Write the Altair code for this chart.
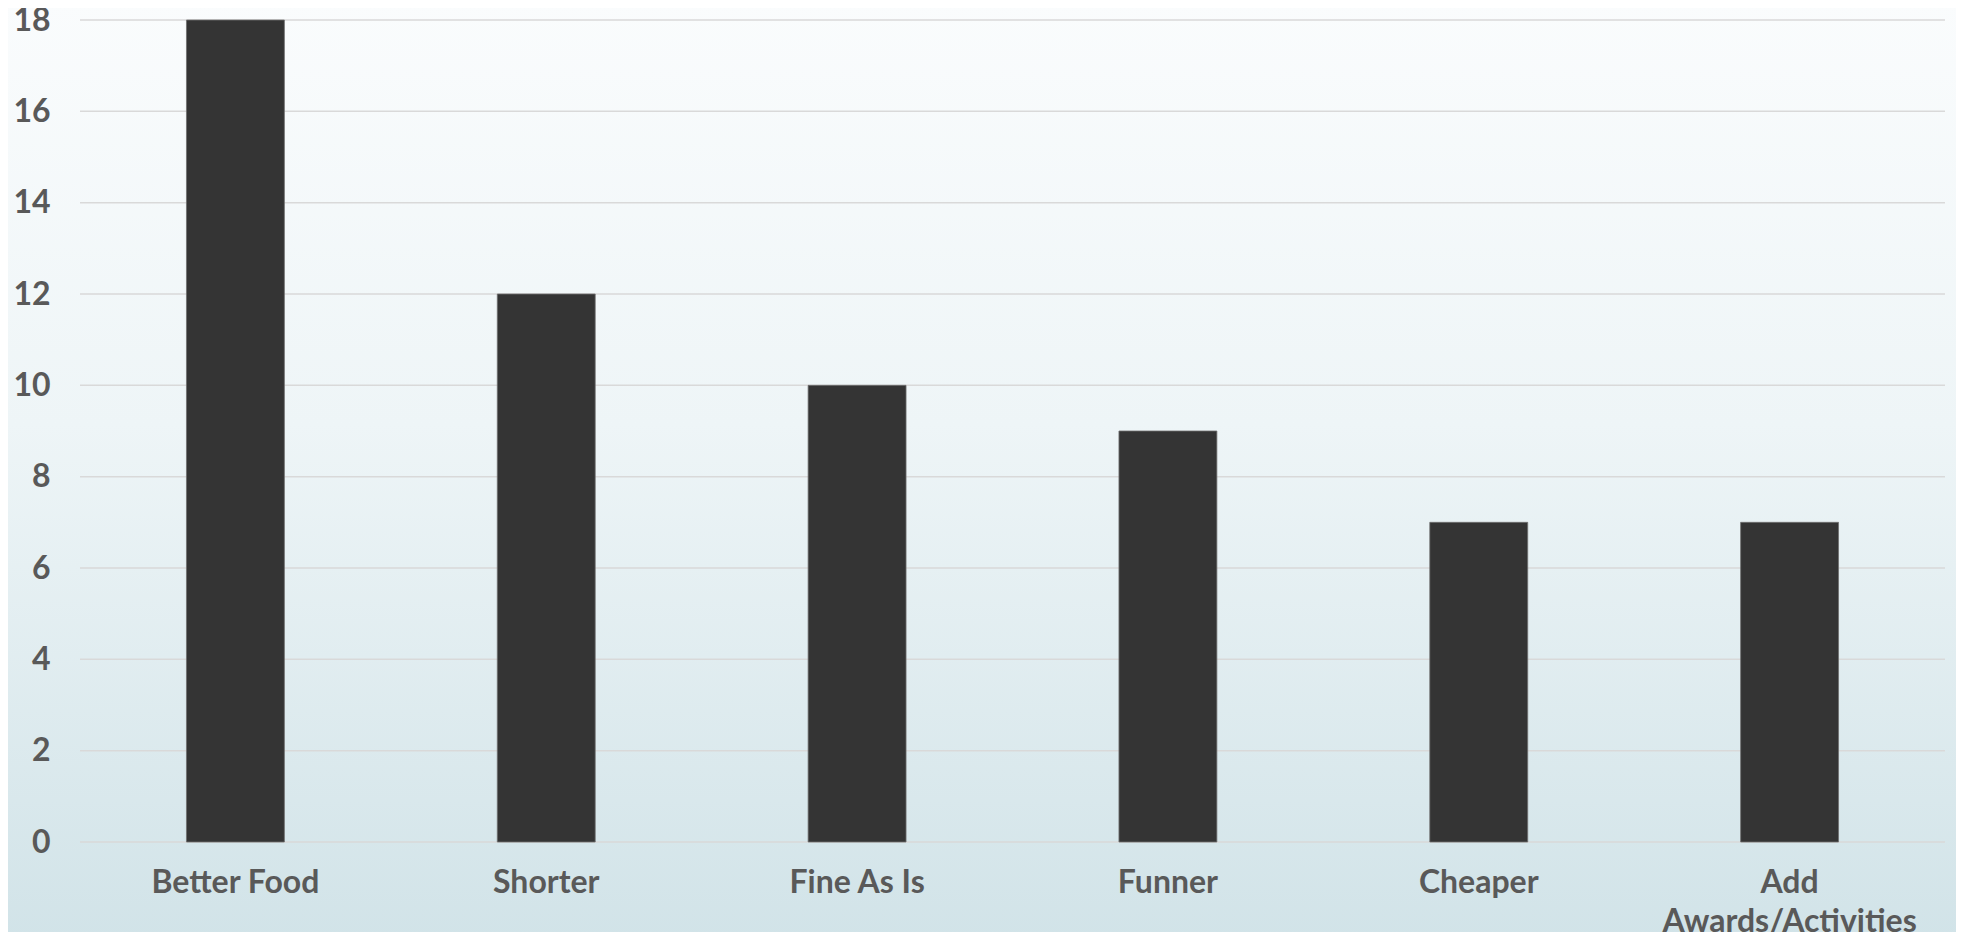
import altair as alt
import pandas as pd

categories = ["Better Food", "Shorter", "Fine As Is", "Funner", "Cheaper", "Add|Awards/Activities"]
counts = [18, 12, 10, 9, 7, 7]
y_ticks = [0, 2, 4, 6, 8, 10, 12, 14, 16, 18]

W, H = 1865, 822
PAD = {"left": 72, "top": 12, "right": 11, "bottom": 90}
FONT = "Lato"
TXT = "#595959"
FS = 32

df = pd.DataFrame({"category": categories, "count": counts})
grid_df = pd.DataFrame({"tick": y_ticks})
one = pd.DataFrame({"k": [0]})

ysc = alt.Scale(domain=[0, 18], nice=False, zero=True)
yaxis = alt.Axis(title=None, values=y_ticks, grid=False, domain=False, ticks=False,
                 zindex=1, labelFont=FONT, labelFontSize=FS, labelFontWeight="bold",
                 labelColor=TXT, labelPadding=30)

bg = alt.Chart(one).mark_rect(
    color=alt.Gradient(
        gradient="linear",
        stops=[alt.GradientStop(color="#fafcfd", offset=0),
               alt.GradientStop(color="#eef5f7", offset=0.45),
               alt.GradientStop(color="#d1e3e8", offset=1)],
        x1=0, x2=0, y1=0, y2=1,
    )
).encode(
    x=alt.value(-80), x2=alt.value(W + 20),
    y=alt.value(-20), y2=alt.value(H + 100),
)

grid = alt.Chart(grid_df).mark_rule(color="#d9d9d9", strokeWidth=1.5).encode(
    y=alt.Y("tick:Q", scale=ysc, axis=yaxis),
    x=alt.value(0), x2=alt.value(W),
)

bars = alt.Chart(df).mark_bar(color="#343434", stroke="#6e6e6e", strokeWidth=0.8).encode(
    x=alt.X("category:N", sort=categories,
            scale=alt.Scale(paddingInner=0.685, paddingOuter=0.3425),
            axis=alt.Axis(title=None, labelAngle=0, domain=False, ticks=False, zindex=1,
                          labelFont=FONT, labelFontSize=FS, labelFontWeight="bold",
                          labelColor=TXT, labelPadding=25, labelLineHeight=39,
                          labelLimit=500,
                          labelExpr="split(datum.label, '|')")),
    y=alt.Y("count:Q", scale=ysc, axis=yaxis),
)

chart = alt.layer(bg, grid, bars).properties(
    width=W, height=H,
    autosize=alt.AutoSizeParams(type="none"),
    padding=PAD,
).configure_view(stroke=None).configure(background="#f3f8f9")

chart.save("out.html", embed_options={"renderer": "svg", "actions": False})
